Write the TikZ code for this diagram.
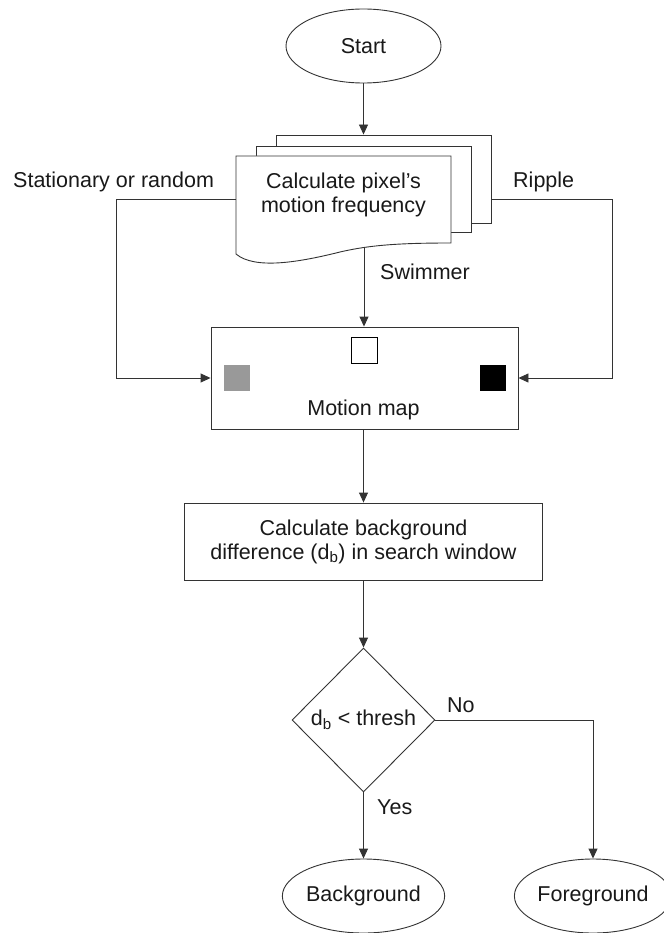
\documentclass[tikz,border=0pt]{standalone}
\usepackage{fontspec}
\setmainfont{Liberation Sans}
\usetikzlibrary{shapes.geometric, arrows.meta, positioning}

\begin{document}
\begin{tikzpicture}[x=1pt, y=-1pt,
  every node/.style={font=\fontsize{21.5}{24}\selectfont, text=black!90},
  line/.style={draw=black!80, line width=0.9pt},
  arr/.style={line, -{Triangle[length=10pt, width=9pt]}},
  term/.style={ellipse, line, fill=white, minimum width=155pt, minimum height=74pt, inner sep=0pt},
  page/.style={rectangle, line, fill=white, minimum width=215pt, inner sep=0pt},
  box/.style={rectangle, line, inner sep=0pt},
  pix/.style={rectangle, minimum size=26pt, inner sep=0pt},
  lbl/.style={anchor=west, inner sep=0pt}]
\useasboundingbox (0,0) rectangle (663,933);
% Start
\node[term] (start) at (363.5,46) {Start};
% Stack of pages
\node[page, minimum height=88pt] (pg3) at (383.5,179) {};
\node[page, minimum height=86pt] (pg2) at (363.5,189) {};
\draw[line, fill=white] (236,156) -- (451,156) -- (451,243)
  .. controls (400,243) and (370,245) .. (340,252)
  .. controls (300,262) and (255,270) .. (236,254) -- cycle;
\node[align=center] (doc) at (343.5,195) {Calculate pixel's\\motion frequency};
\coordinate (docL) at (236,199);
\coordinate (docR) at (491,199);
\coordinate (lturn) at (116.5,199);
\coordinate (rturn) at (612,199);
\coordinate (wave) at (364,248);
% Motion map
\node[box, minimum width=307pt, minimum height=102pt] (mmap) at (364.5,378) {};
\node[pix, draw=black, fill=white] (swim) at (364.5,350) {};
\node[pix, fill=black!40] (stat) at (237,378) {};
\node[pix, fill=black] (ripple) at (492.5,378) {};
\node (mmaplbl) at (363.5,410) {Motion map};
% Background difference
\node[box, minimum width=358pt, minimum height=77pt, align=center] (bgdiff) at (363.5,541.5)
  {Calculate background\\difference (d\textsubscript{b}) in search window};
% Decision
\node[diamond, line, minimum width=143pt, minimum height=144pt, inner sep=0pt] (dec) at (363.5,720) {};
\node (declbl) at (dec) {d\textsubscript{b} < thresh};
% Ends
\node[term] (bg) at (363.5,896) {Background};
\node[term] (fg) at (593,896) {Foreground};
% Labels
\node[lbl] (statlbl) at (13,182) {Stationary or random};
\node[lbl] (riplbl) at (513,182) {Ripple};
\node[lbl] (swimlbl) at (380,272) {Swimmer};
\node[lbl] (nolbl) at (447,705) {No};
\node[lbl] (yeslbl) at (377,807) {Yes};
% Connectors
\draw[arr] (start) -- (start.south |- pg3.north);
\draw[arr] (docL) -- (lturn) |- (mmap.west);
\draw[arr] (docR) -- (rturn) |- (mmap.east);
\draw[arr] (wave) -- (wave |- mmap.north);
\draw[arr] (mmap.south -| bgdiff) -- (bgdiff);
\draw[arr] (bgdiff) -- (dec);
\draw[arr] (dec) -- (bg);
\draw[arr] (dec.east) -| (fg.north);
\end{tikzpicture}
\end{document}
